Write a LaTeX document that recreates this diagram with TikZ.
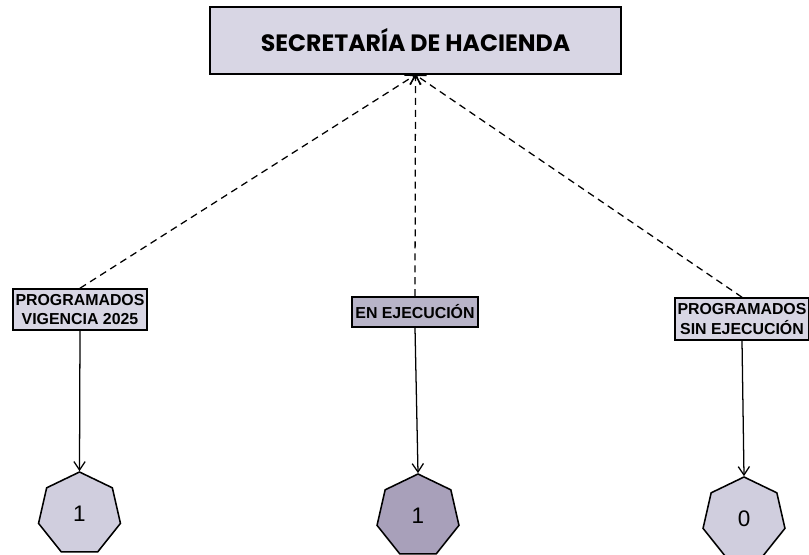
\documentclass[tikz,border=0pt]{standalone}
\usepackage{fontspec}
\setmainfont{Liberation Sans}
\newfontfamily\titlefont{Poppins}
\usetikzlibrary{positioning, shapes.geometric, arrows.meta}
\definecolor{boxFill}{RGB}{216,214,228}
\definecolor{midFill}{RGB}{184,180,200}
\definecolor{hepFill}{RGB}{208,206,222}
\definecolor{hepDark}{RGB}{168,160,186}
\tikzset{
    titlebox/.style={
        draw,
        line width=1.2pt,
        fill=boxFill,
        minimum width=10.275cm,
        minimum height=1.675cm,
        font=\titlefont\bfseries\fontsize{16.8}{20}\selectfont
    },
    catbox/.style={
        draw,
        line width=1.1pt,
        fill=boxFill,
        inner sep=2pt,
        align=center,
        font=\bfseries\fontsize{11.3}{14}\selectfont
    },
    countnode/.style={
        regular polygon,
        regular polygon sides=7,
        draw,
        line width=1.1pt,
        fill=hepFill,
        minimum size=2.1cm,
        inner sep=0pt,
        font=\fontsize{16}{18}\selectfont
    },
    ptr/.style={
        -{Straight Barb[length=6pt,width=8pt]},
        line width=0.9pt
    },
    dptr/.style={
        -{Straight Barb[length=6pt,width=8pt]},
        line width=0.9pt,
        dash pattern=on 5pt off 3.5pt
    }
}
\begin{document}
\begin{tikzpicture}[x=0.025cm, y=-0.025cm]
    \useasboundingbox (0,0) rectangle (809,554);
    \node[titlebox] (H) at (415.5,40.5) {SECRETARÍA DE HACIENDA};

    \node[catbox, minimum width=3.35cm, minimum height=1.025cm] (PV) at (80,309.5) {PROGRAMADOS\\VIGENCIA 2025};
    \node[catbox, minimum width=3.15cm, minimum height=0.75cm, fill=midFill] (EE) at (415,312) {EN EJECUCIÓN};
    \node[catbox, minimum width=3.3cm, minimum height=1.05cm] (PS) at (742,319) {PROGRAMADOS\\SIN EJECUCIÓN};

    \node[countnode] (N1) at (79.5,514) {1};
    \node[countnode, fill=hepDark] (N2) at (418,516) {1};
    \node[countnode] (N3) at (744,519) {0};

    \draw[dptr] (PV.north) -- (H.south);
    \draw[dptr] (EE.north) -- (H.south);
    \draw[dptr] (PS.north) -- (H.south);

    \draw[ptr] (PV.south) -- (N1.north);
    \draw[ptr] (EE.south) -- (N2.north);
    \draw[ptr] (PS.south) -- (N3.north);
\end{tikzpicture}
\end{document}
